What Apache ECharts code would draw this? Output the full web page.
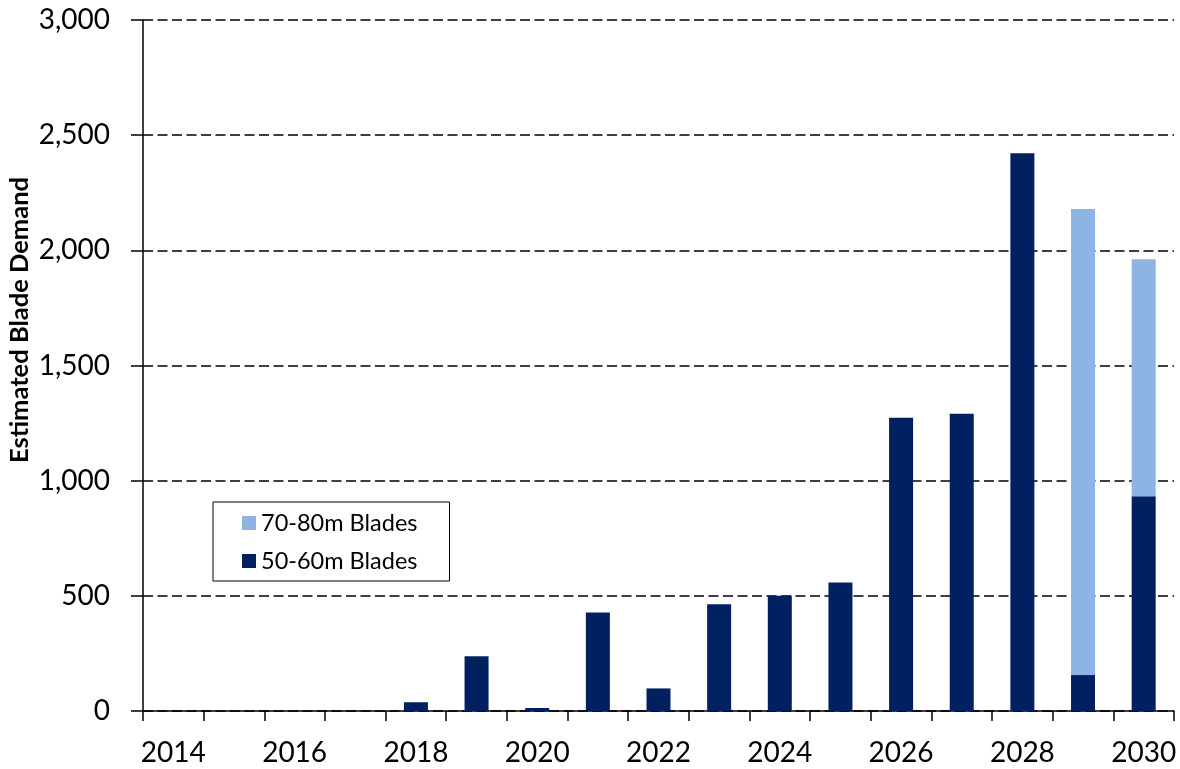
<!DOCTYPE html>
<html>
<head>
<meta charset="utf-8">
<script src="https://cdn.jsdelivr.net/npm/echarts@6/dist/echarts.min.js"></script>
<style>
  html, body { margin: 0; padding: 0; background: #fff; }
  #main { width: 1180px; height: 769px; }
</style>
</head>
<body>
<div id="main"></div>
<script>
// 年份
var years = ['2014', '2015', '2016', '2017', '2018', '2019', '2020', '2021', '2022',
  '2023', '2024', '2025', '2026', '2027', '2028', '2029', '2030'];
// 50-60m blades (bottom of stack)
var blades5060 = [0, 0, 0, 0, 38, 238, 13, 428, 98, 464, 500, 558, 1273, 1290, 2422, 156, 932];
// 70-80m blades (top of stack)
var blades7080 = [0, 0, 0, 0, 0, 0, 0, 0, 0, 0, 0, 0, 0, 0, 0, 2023, 1029];
var yTicks = [0, 500, 1000, 1500, 2000, 2500, 3000];

var fontFamily = 'Lato, "Open Sans", sans-serif';
var myChart = echarts.init(document.getElementById('main'));

var option = {
  animation: false,
  backgroundColor: '#fff',
  grid: { left: 143, right: 6, top: 20, bottom: 58, containLabel: false },
  legend: {
    data: ['70-80m Blades', '50-60m Blades'],
    orient: 'vertical',
    left: 213,
    top: 502,
    itemWidth: 14,
    itemHeight: 14,
    itemGap: 14,
    padding: [9, 32, 8, 29],
    borderColor: '#000',
    borderWidth: 1,
    borderRadius: 0,
    icon: 'rect',
    textStyle: { fontFamily: fontFamily, fontSize: 23.5, color: '#000' }
  },
  xAxis: {
    type: 'category',
    data: years,
    boundaryGap: true,
    axisLine: { lineStyle: { color: '#000', width: 1.5 } },
    axisTick: { show: true, interval: 0, length: 10, lineStyle: { color: '#000', width: 1.5 } },
    axisLabel: {
      interval: 1,
      margin: 28,
      color: '#000',
      fontFamily: fontFamily,
      fontSize: 28
    },
    splitLine: { show: false }
  },
  yAxis: {
    type: 'value',
    min: 0,
    max: yTicks[yTicks.length - 1],
    interval: 500,
    axisLine: { show: true, lineStyle: { color: '#000', width: 1.5 } },
    axisTick: { show: true, length: 12, lineStyle: { color: '#000', width: 1.5 } },
    axisLabel: {
      margin: 33,
      color: '#000',
      fontFamily: fontFamily,
      fontSize: 28,
      formatter: function (v) {
        return v.toLocaleString('en-US');
      }
    },
    splitLine: {
      show: true,
      lineStyle: { color: '#000', width: 1.6, type: [10, 4.5] }
    }
  },
  graphic: [{
    type: 'text',
    x: 20,
    y: 320,
    rotation: Math.PI / 2,
    style: {
      text: 'Estimated Blade Demand',
      fontFamily: fontFamily,
      fontWeight: 'bold',
      fontSize: 25.5,
      fill: '#000',
      textAlign: 'center',
      textVerticalAlign: 'middle'
    }
  }],
  series: [{
    name: '50-60m Blades',
    type: 'bar',
    stack: 'total',
    data: blades5060,
    barWidth: 24,
    itemStyle: { color: '#002060' }
  }, {
    name: '70-80m Blades',
    type: 'bar',
    stack: 'total',
    data: blades7080,
    barWidth: 24,
    itemStyle: { color: '#8DB4E2' }
  }]
};

myChart.setOption(option);
</script>
</body>
</html>
